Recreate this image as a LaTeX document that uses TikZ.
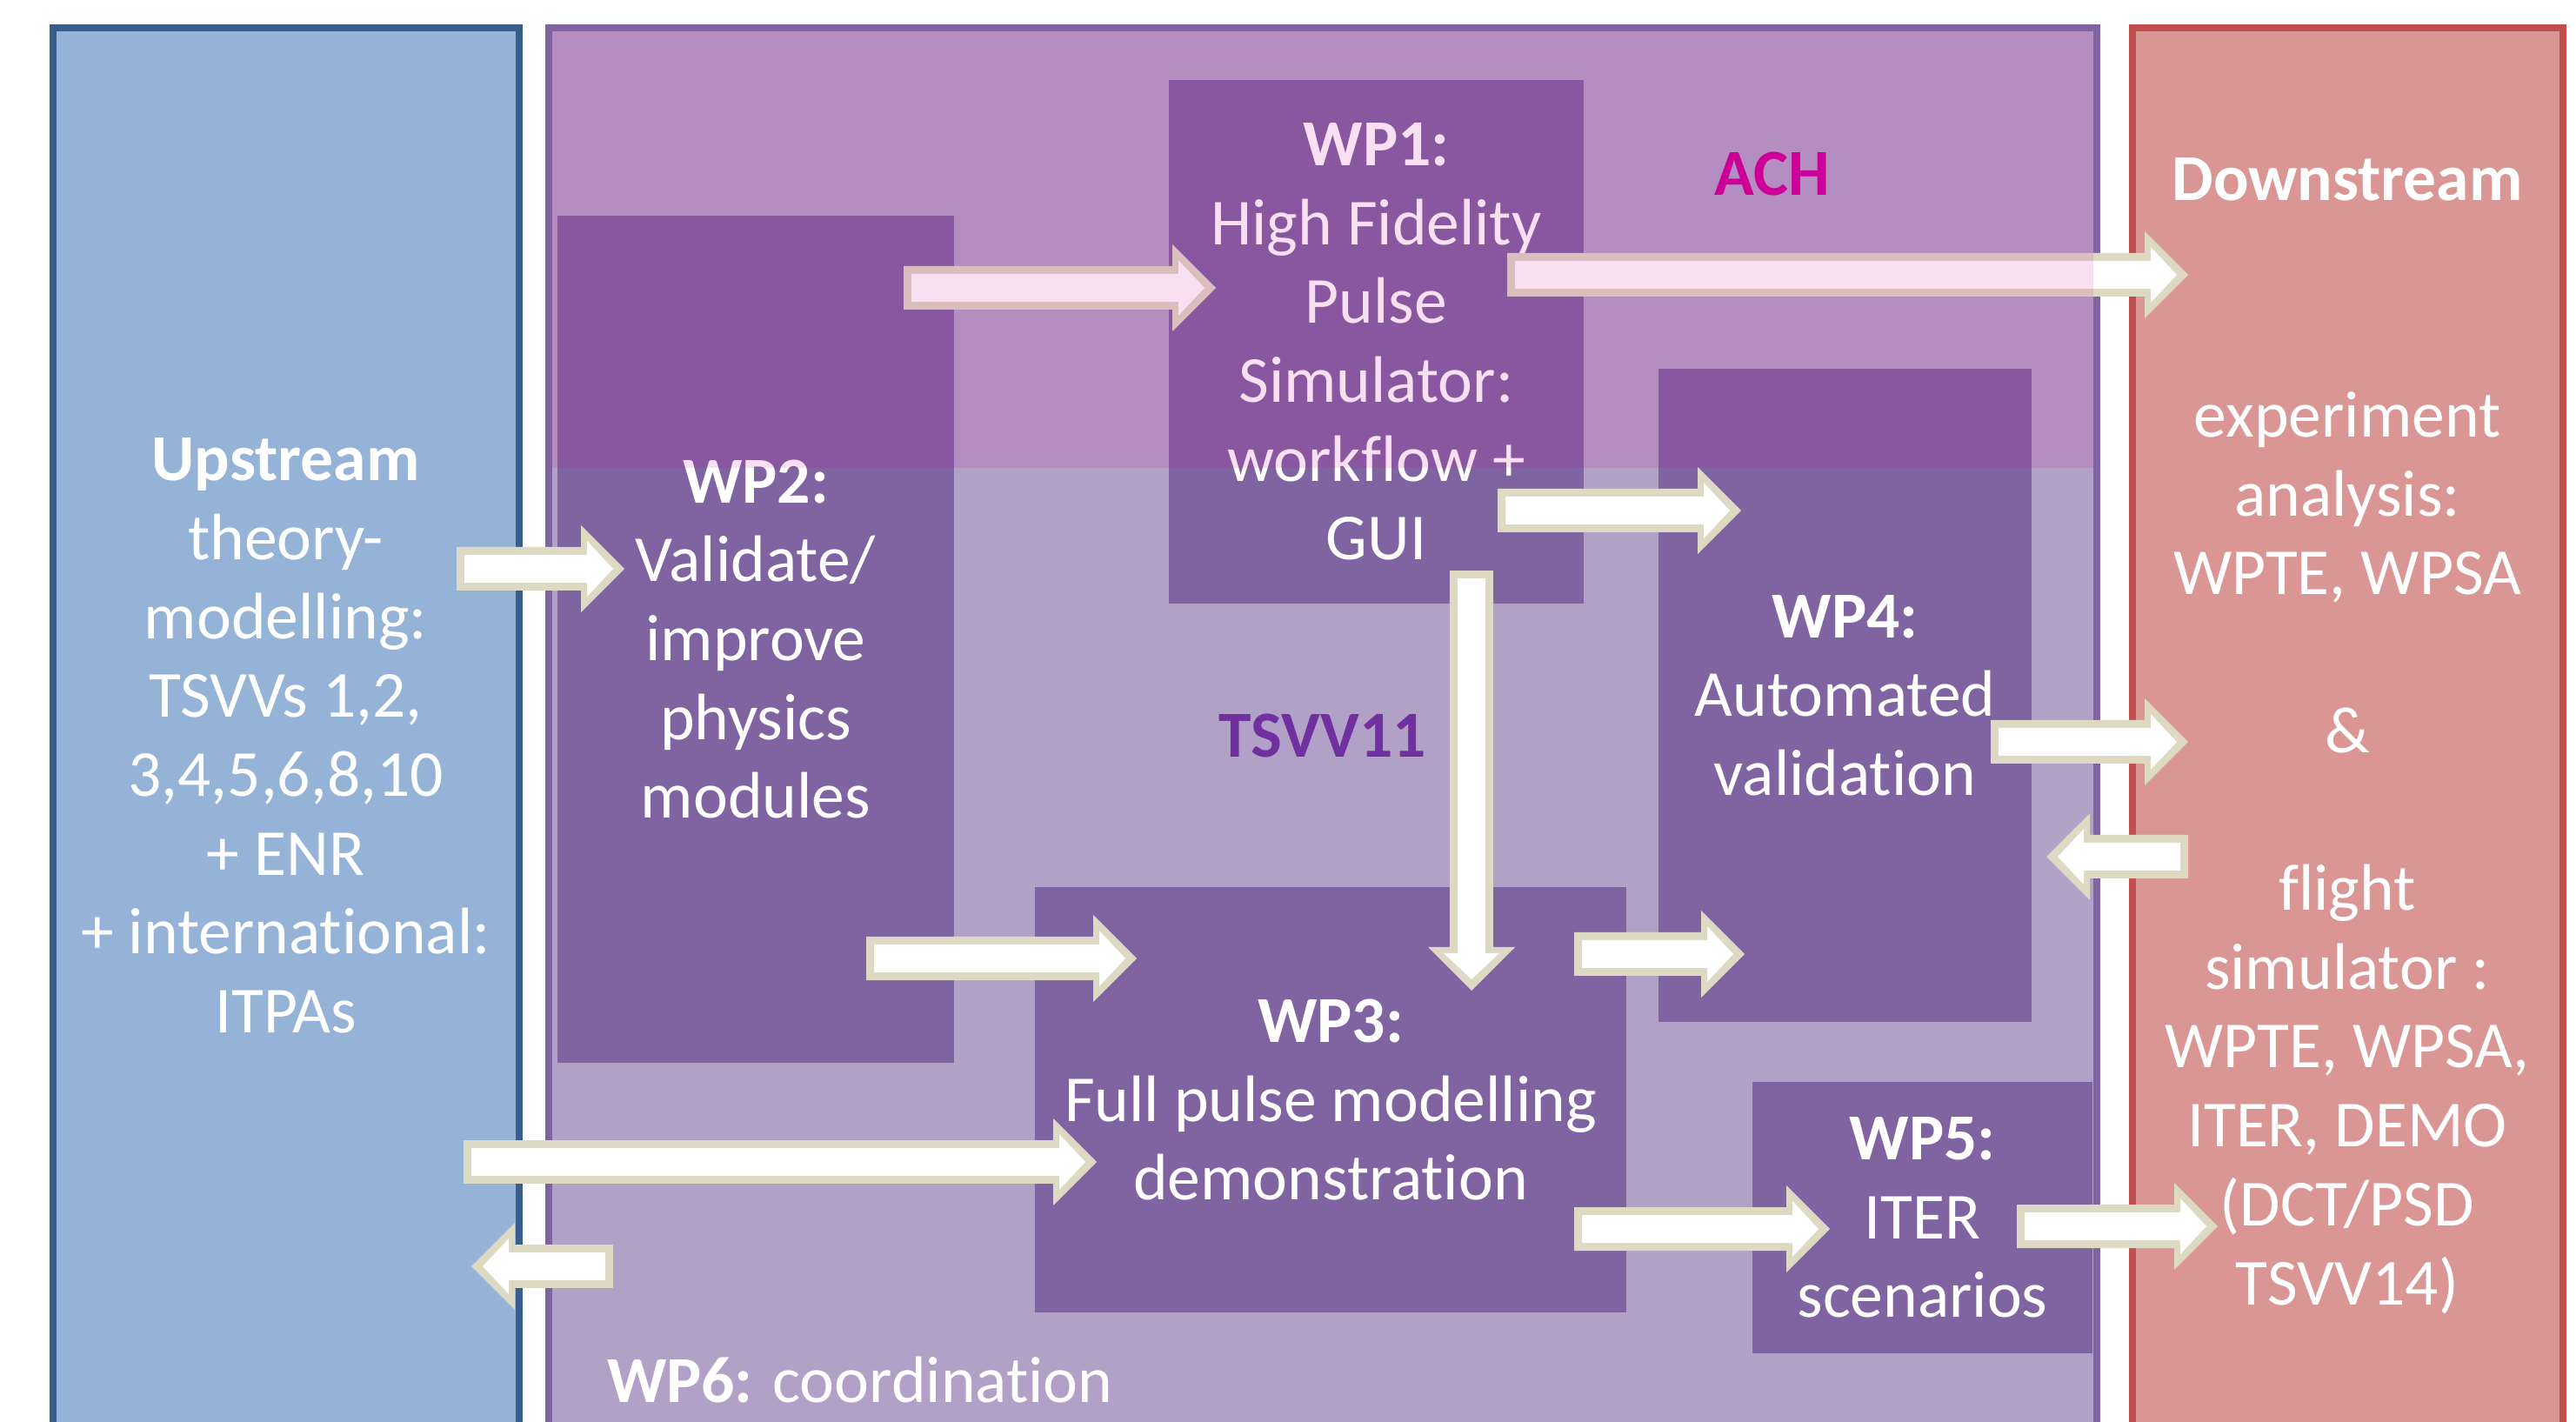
\documentclass[tikz,border=0pt]{standalone}
\usepackage{fontspec}
\setmainfont[Ligatures=NoCommon]{Carlito}
\usetikzlibrary{positioning,calc,arrows.meta}

\definecolor{upfill}{HTML}{95B3D7}
\definecolor{upedge}{HTML}{385D8A}
\definecolor{tsvvfill}{HTML}{B2A1C7}
\definecolor{tsvvedge}{HTML}{8064A2}
\definecolor{tsvvtext}{HTML}{7030A0}
\definecolor{downfill}{HTML}{D99694}
\definecolor{downedge}{HTML}{C0504D}
\definecolor{wpfill}{HTML}{8064A2}
\definecolor{flowedge}{HTML}{DDD9C3}
\definecolor{achtint}{RGB}{200,0,150}
\definecolor{achtext}{HTML}{CC0099}

\begin{document}
\begin{tikzpicture}[x=1cm, y=-1cm,
    every node/.style={font=\fontsize{21.5}{25.8}\selectfont, text=white, align=center, inner sep=0pt, outer sep=0pt},
    panel/.style={draw, line width=0.08cm, minimum height=16.28cm},
    wpbox/.style={fill=wpfill},
    flow/.style={draw=white, line width=0.32cm, shorten <=0.09cm, shorten >=0.13cm,
        -{Triangle[length=0.30cm, width=0.64cm, line width=0pt]},
        preaction={draw=flowedge, line width=0.50cm, shorten <=0pt, shorten >=0pt,
            -{Triangle[length=0.50cm, width=1.00cm, line width=0pt]}}}]

    \useasboundingbox (0,0) rectangle (29.62,16.35);
    \clip (0,0) rectangle (29.62,16.35);

    % Three columns
    \node[panel, draw=upedge, fill=upfill, minimum width=5.36cm] (up) at (3.285,8.46)
        {\textbf{Upstream}\\theory-\\modelling:\\TSVVs 1,2,\\3,4,5,6,8,10\\+ ENR\\+ international:\\ITPAs};
    \node[panel, draw=tsvvedge, fill=tsvvfill, minimum width=17.80cm, text=tsvvtext] (tsvv) at (15.21,8.46)
        {\textbf{TSVV11}};
    \node[panel, draw=downedge, fill=downfill, minimum width=4.95cm] (down) at (26.99,8.46)
        {\textbf{Downstream}\\\mbox{}\\\mbox{}\\experiment\\analysis:\\WPTE, WPSA\\\mbox{}\\\&\\\mbox{}\\flight\\simulator :\\WPTE, WPSA,\\ITER, DEMO\\(DCT/PSD\\TSVV14)};

    % Work packages
    \node[wpbox, minimum width=4.77cm, minimum height=6.02cm] (wp1) at (15.825,3.93)
        {\textbf{WP1:}\\High Fidelity\\Pulse\\Simulator:\\workflow +\\GUI};
    \node[wpbox, minimum width=4.56cm, minimum height=9.74cm] (wp2) at (8.69,7.35)
        {\textbf{WP2:}\\Validate/\\improve\\physics\\modules};
    \node[wpbox, minimum width=4.29cm, minimum height=7.51cm] (wp4) at (21.215,7.995)
        {\textbf{WP4:}\\Automated\\validation};
    \node[wpbox, minimum width=6.80cm, minimum height=4.89cm] (wp3) at (15.30,12.645)
        {\textbf{WP3:}\\Full pulse modelling\\demonstration};
    \node[wpbox, minimum width=3.91cm, minimum height=3.12cm] (wp5) at (22.105,14.00)
        {\textbf{WP5:}\\ITER\\scenarios};
    \node[anchor=west] (wp6) at (6.98,15.87) {\textbf{WP6:} coordination};

    % Flows
    \draw[flow] ($(up.east)+(-0.715,-1.92)$) -- ($(wp2.west)+(0.77,-0.81)$);
    \draw[flow] ($(wp2.north east)+(-0.58,0.83)$) -- ($(wp1.west)+(0.54,-0.62)$);
    \draw[flow] ($(wp1.east)+(-0.88,-0.77)$) -- ($(down.north west)+(0.645,2.84)$);
    \draw[flow] ($(wp1.south east)+(-0.99,-1.07)$) -- ($(wp4.north west)+(0.95,1.63)$);
    \draw[flow] ($(wp1.south)+(1.095,-0.38)$) -- ($(wp3.north)+(1.62,1.19)$);
    \draw[flow] ($(wp2.south east)+(-1.01,-1.20)$) -- ($(wp3.north west)+(1.17,0.82)$);
    \draw[flow] ($(up.east)+(-0.635,4.90)$) -- ($(wp3.west)+(0.71,0.715)$);
    \draw[flow] ($(tsvv.west)+(0.74,6.10)$) -- ($(up.east)+(-0.545,6.10)$);
    \draw[flow] ($(wp3.north east)+(-0.60,0.77)$) -- ($(wp4.south west)+(0.99,-0.78)$);
    \draw[flow] ($(wp4.east)+(-0.47,0.535)$) -- ($(down.west)+(0.645,0.07)$);
    \draw[flow] ($(down.west)+(0.645,1.39)$) -- ($(wp4.east)+(0.17,1.855)$);
    \draw[flow] ($(wp3.east)+(-0.60,1.485)$) -- ($(wp5.west)+(0.89,0.13)$);
    \draw[flow] ($(wp5.east)+(-0.87,0.10)$) -- ($(down.west)+(0.985,5.64)$);

    % ACH band over the top of TSVV11
    \fill[achtint, fill opacity=0.12] ($(tsvv.north west)+(0.04,0.04)$) rectangle ($(tsvv.north east)+(-0.04,5.06)$);
    \node[text=achtext] (ach) at (20.38,2.00) {\textbf{ACH}};
\end{tikzpicture}
\end{document}
